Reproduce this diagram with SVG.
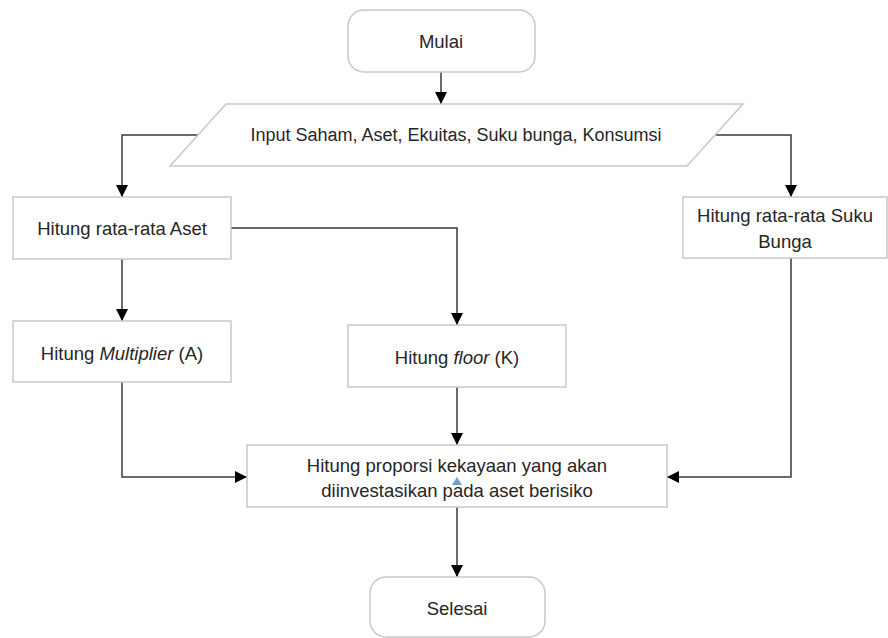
<svg xmlns="http://www.w3.org/2000/svg" width="888" height="638" viewBox="0 0 888 638">
<defs>
<marker id="arr" markerUnits="userSpaceOnUse" markerWidth="12" markerHeight="12" viewBox="0 0 12 12" refX="12" refY="6" orient="auto">
<path d="M0,0 L12,6 L0,12 Z" fill="#000"/>
</marker>
</defs>
<style>
.box{fill:#fff;stroke:#c8c8c8;stroke-width:1.5}
.t{font-family:"Liberation Sans",Arial,sans-serif;font-size:18.5px;fill:#262626;text-anchor:middle;dominant-baseline:central}
.c{fill:none;stroke:#3a3a3a;stroke-width:1.5;marker-end:url(#arr)}
</style>
<rect width="888" height="638" fill="#fff"/>
<g id="connectors">
<path class="c" d="M441,72 V104"/>
<path class="c" d="M199,135 H122 V197"/>
<path class="c" d="M716,135 H791 V197"/>
<path class="c" d="M231,228 H457 V325"/>
<path class="c" d="M122,259 V321"/>
<path class="c" d="M122,382 V477 H247"/>
<path class="c" d="M457,387 V445"/>
<path class="c" d="M791,258 V477 H667"/>
<path class="c" d="M457,507 V577"/>
</g>
<g id="mulai">
<rect class="box" x="348" y="10" width="187" height="62" rx="16"/>
<text class="t" x="441" y="41">Mulai</text>
</g>
<g id="input">
<polygon class="box" points="226,104 743,104 687,166 170,166"/>
<text class="t" x="456" y="135" style="font-size:18px">Input Saham, Aset, Ekuitas, Suku bunga, Konsumsi</text>
</g>
<g id="rata-aset">
<rect class="box" x="13" y="197" width="218" height="62"/>
<text class="t" x="122" y="228">Hitung rata-rata Aset</text>
</g>
<g id="rata-suku">
<rect class="box" x="683" y="197" width="204" height="61"/>
<text class="t" x="785" y="215">Hitung rata-rata Suku</text>
<text class="t" x="785" y="241">Bunga</text>
</g>
<g id="multiplier">
<rect class="box" x="13" y="321" width="218" height="61"/>
<text class="t" x="122" y="353">Hitung <tspan font-style="italic">Multiplier</tspan> (A)</text>
</g>
<g id="floor">
<rect class="box" x="348" y="325" width="218" height="62"/>
<text class="t" x="457" y="357">Hitung <tspan font-style="italic">floor</tspan> (K)</text>
</g>
<g id="proporsi">
<rect class="box" x="247" y="445" width="420" height="62"/>
<text class="t" x="457" y="465">Hitung proporsi kekayaan yang akan</text>
<text class="t" x="457" y="490">diinvestasikan pada aset berisiko</text>
<polygon points="452,485 462,485 457,477" fill="#6f9fd8"/>
</g>
<g id="selesai">
<rect class="box" x="370" y="577" width="175" height="60" rx="16"/>
<text class="t" x="457" y="608">Selesai</text>
</g>
</svg>
